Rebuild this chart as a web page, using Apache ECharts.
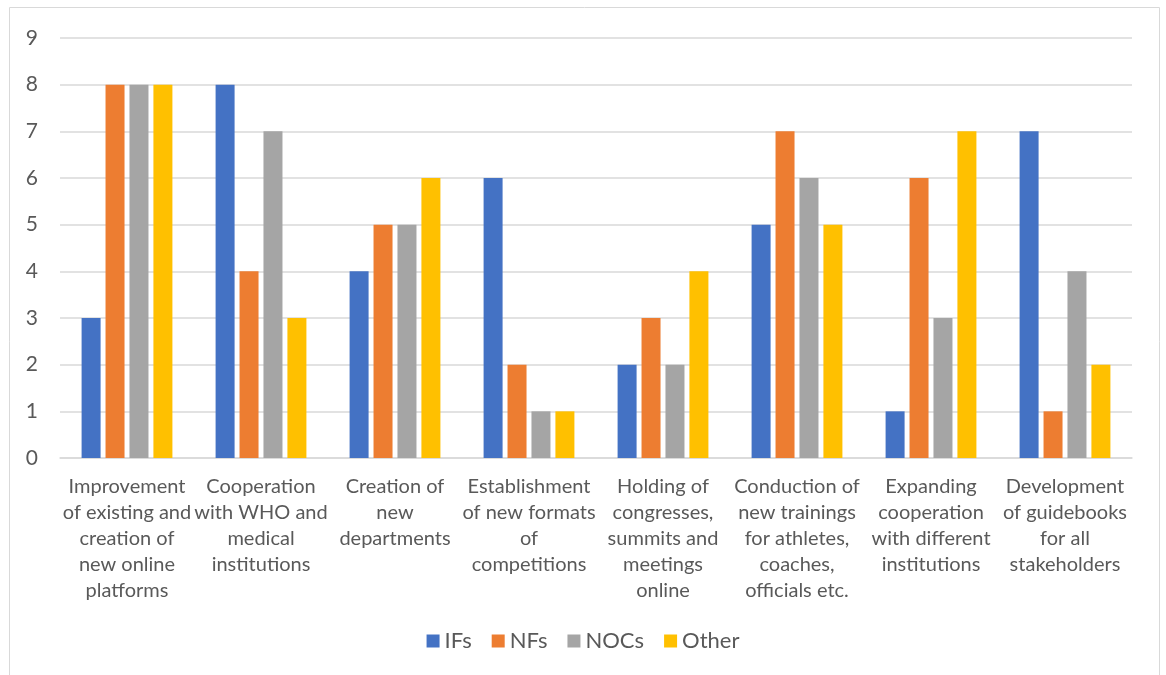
<!DOCTYPE html>
<html>
<head>
<meta charset="utf-8">
<script src="https://cdn.jsdelivr.net/npm/echarts@6/dist/echarts.min.js"></script>
<style>
  html, body { margin: 0; padding: 0; background: #fff; }
  #chart { width: 1166px; height: 675px; }
</style>
</head>
<body>
<div id="chart"></div>
<script>
// Measures taken by each type of organisation
const categories = [
  'Improvement\nof existing and\ncreation of\nnew online\nplatforms',
  'Cooperation\nwith WHO and\nmedical\ninstitutions',
  'Creation of\nnew\ndepartments',
  'Establishment\nof new formats\nof\ncompetitions',
  'Holding of\ncongresses,\nsummits and\nmeetings\nonline',
  'Conduction of\nnew trainings\nfor athletes,\ncoaches,\nofficials etc.',
  'Expanding\ncooperation\nwith different\ninstitutions',
  'Development\nof guidebooks\nfor all\nstakeholders'
];
const seriesNames = ['IFs', 'NFs', 'NOCs', 'Other'];
const ifsValues   = [3, 8, 4, 6, 2, 5, 1, 7];
const nfsValues   = [8, 4, 5, 2, 3, 7, 6, 1];
const nocsValues  = [8, 7, 5, 1, 2, 6, 3, 4];
const otherValues = [8, 3, 6, 1, 4, 5, 7, 2];
const colors = ['#4472C4', '#ED7D31', '#A5A5A5', '#FFC000'];

const FONT = 'Lato, "Open Sans", sans-serif';
const TEXT = '#595959';

const chart = echarts.init(document.getElementById('chart'));
const values = [ifsValues, nfsValues, nocsValues, otherValues];

chart.setOption({
  animation: false,
  color: colors,
  textStyle: { fontFamily: FONT },
  graphic: [{
    type: 'rect',
    shape: { x: 9.5, y: 7.5, width: 1150, height: 700 },
    style: { fill: 'none', stroke: '#d9d9d9', lineWidth: 1 },
    silent: true
  }],
  grid: { left: 60, right: 34, top: 38, bottom: 217, containLabel: false },
  legend: {
    data: seriesNames,
    bottom: 18,
    left: 'center',
    itemWidth: 13,
    itemHeight: 13,
    itemGap: 20,
    icon: 'rect',
    textStyle: { color: TEXT, fontSize: 22, fontFamily: FONT }
  },
  xAxis: {
    type: 'category',
    data: categories,
    axisTick: { show: false },
    axisLine: { lineStyle: { color: '#d9d9d9', width: 1.5 } },
    axisLabel: {
      interval: 0,
      color: TEXT,
      fontSize: 20,
      lineHeight: 26,
      margin: 16,
      fontFamily: FONT
    }
  },
  yAxis: {
    type: 'value',
    min: 0,
    max: 9,
    interval: 1,
    axisLine: { show: false },
    axisTick: { show: false },
    splitLine: { lineStyle: { color: '#d9d9d9', width: 1.5 } },
    axisLabel: { color: TEXT, fontSize: 21, margin: 22, fontFamily: FONT }
  },
  series: seriesNames.map((name, i) => ({
    name: name,
    type: 'bar',
    data: values[i],
    barWidth: 19,
    barGap: '26%',
    itemStyle: { color: colors[i] }
  }))
});
</script>
</body>
</html>
